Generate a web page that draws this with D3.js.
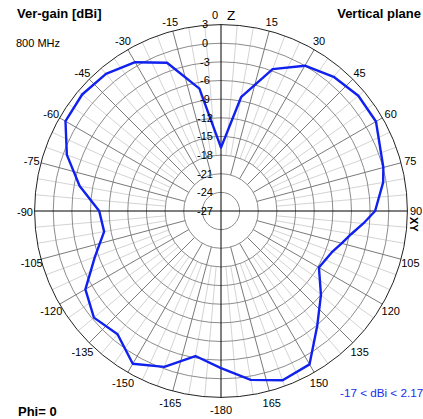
<!DOCTYPE html>
<html>
<head>
<meta charset="utf-8">
<script src="https://cdn.jsdelivr.net/npm/d3@7"></script>
<style>
  html,body{margin:0;padding:0;background:#fff;}
  svg{display:block;}
  text{font-family:"Liberation Sans",Arial,sans-serif;}
</style>
</head>
<body>
<svg id="chart" width="423" height="419"></svg>
<script>
// ---- data ----
const angles = [0,10,20,30,40,50,60,70,75,80,90,95,100,105,110,120,130,140,150,160,170,180,
                190,200,210,220,230,240,250,260,270,280,290,300,310,320,330,340,350];
const gains  = [-16.8,-8.4,-2.7,0.0,1.2,1.85,1.8,0.4,0.05,-0.5,-2.2,-4.0,-5.7,-6.9,-7.9,-8.8,-6.0,-2.9,1.5,2.0,0.6,-1.7,
                -3.3,-0.3,1.4,-1.1,-0.3,-1.8,-5.4,-7.9,-7.4,-3.9,-0.6,1.9,2.17,1.8,0.65,-1.6,-7.0];
const ringValues = [-24,-21,-18,-15,-12,-9,-6,-3,0,3];
const ringLabels = ["3","0","-3","-6","-9","-12","-15","-18","-21","-24","-27"];
const angleTicks = d3.range(15,360,15);
const angleTickLabels = angleTicks.map(a => a === 180 ? "-180" : (a < 180 ? String(a) : String(a-360)));

const W = 423, H = 419;
const cx = 221, cy = 211, R = 186.4;
const svg = d3.select("#chart");
const rScale = d3.scaleLinear().domain([-27,3]).range([0,R]);
const rad = d => d*Math.PI/180;
const g = svg.append("g").attr("transform",`translate(${cx},${cy})`);

// light spokes every 5 degrees
const light = d3.range(0,360,5).filter(a => a % 15 !== 0);
g.selectAll("line.light").data(light).join("line")
  .attr("x1", a => rScale(-18)*Math.sin(rad(a))).attr("y1", a => -rScale(-18)*Math.cos(rad(a)))
  .attr("x2", a => R*Math.sin(rad(a))).attr("y2", a => -R*Math.cos(rad(a)))
  .attr("stroke","#d4d4d4").attr("stroke-width",1);

// rings
g.selectAll("circle.ring").data(ringValues.slice(0,-1)).join("circle")
  .attr("r", v => rScale(v)).attr("fill","none").attr("stroke","#8c8c8c").attr("stroke-width",1);

// dark spokes every 15 degrees
const dark = d3.range(0,360,15).filter(a => a % 90 !== 0);
g.selectAll("line.dark").data(dark).join("line")
  .attr("x1", a => rScale(-21)*Math.sin(rad(a))).attr("y1", a => -rScale(-21)*Math.cos(rad(a)))
  .attr("x2", a => R*Math.sin(rad(a))).attr("y2", a => -R*Math.cos(rad(a)))
  .attr("stroke","#7a7a7a").attr("stroke-width",1);

// outer circle
g.append("circle").attr("r", rScale(3)).attr("fill","none").attr("stroke","#222").attr("stroke-width",1);

// axes
g.append("line").attr("x1",0).attr("x2",0).attr("y1",-R).attr("y2",R).attr("stroke","#000");
g.append("line").attr("y1",0).attr("y2",0).attr("x1",-R).attr("x2",R).attr("stroke","#000");

// pattern
const data = angles.map((a,i) => ({a, v: gains[i]}));
const line = d3.lineRadial().angle(d => rad(d.a)).radius(d => rScale(d.v)).curve(d3.curveLinearClosed);
g.append("path").datum(data).attr("d", line)
  .attr("fill","none").attr("stroke","#1020ee").attr("stroke-width",2.4).attr("stroke-linejoin","round");

// ring labels
const ringVals = [3,0,-3,-6,-9,-12,-15,-18,-21,-24,-27];
g.selectAll("text.rl").data(ringVals).join("text")
  .attr("x", -16).attr("y", v => -rScale(v)).attr("dy","0.35em")
  .attr("text-anchor","middle").attr("font-size",11).attr("fill","#000")
  .text((v,i) => ringLabels[i]);

// angle labels
const D = 196;
g.selectAll("text.al").data(angleTicks.filter(a => a !== 90)).join("text")
  .attr("x", a => D*Math.sin(rad(a))).attr("y", a => -D*Math.cos(rad(a)) + 1.5*(1-Math.cos(rad(a))))
  .attr("dy","0.35em")
  .attr("text-anchor","middle").attr("font-size",11).attr("fill","#000")
  .text(a => angleTickLabels[angleTicks.indexOf(a)]);
svg.append("text").attr("x",410).attr("y",211).attr("dy","0.35em").attr("font-size",11)
  .text(angleTickLabels[angleTicks.indexOf(90)]);
svg.append("text").attr("x",215).attr("y",15).attr("dy","0.35em").attr("text-anchor","middle")
  .attr("font-size",11).text("0");
svg.append("text").attr("x",227).attr("y",19.5).attr("font-size",13.5).text("Z");
svg.append("text").attr("transform","translate(410,217) rotate(90)")
  .attr("font-size",11).attr("font-weight","bold").text("XY");

// titles
svg.append("text").attr("x",17).attr("y",18).attr("font-size",13).attr("font-weight","bold").text("Ver-gain [dBi]");
svg.append("text").attr("x",16).attr("y",47).attr("font-size",11).text("800 MHz");
svg.append("text").attr("x",421).attr("y",18).attr("text-anchor","end").attr("font-size",13).attr("font-weight","bold").text("Vertical plane");
svg.append("text").attr("x",18).attr("y",416).attr("font-size",13).attr("font-weight","bold").text("Phi= 0");
svg.append("text").attr("x",340).attr("y",397).attr("font-size",11.7).attr("fill","#1a2cf0").text("-17 < dBi < 2.17");
</script>
</body>
</html>
